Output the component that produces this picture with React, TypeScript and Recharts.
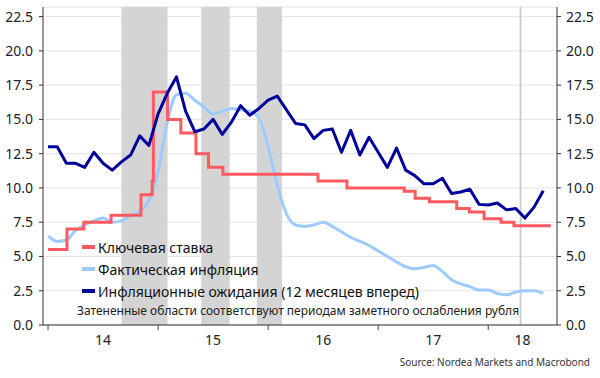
import { LineChart, Line, XAxis, YAxis, CartesianGrid, ReferenceArea, ReferenceLine } from "recharts"

// monthly observations, first point = Jan 2014
const startYear = 2014

const inflation = [
  6.5, 6.1, 6.2, 6.9, 7.3, 7.6, 7.8, 7.5, 7.6, 8.0, 8.3, 9.1,
  11.2, 14.8, 16.8, 16.9, 16.4, 15.9, 15.4, 15.6, 15.8, 15.7, 15.6, 15.1,
  13.0, 10.2, 8.1, 7.3, 7.2, 7.3, 7.5, 7.2, 6.8, 6.4, 6.1, 5.8,
  5.4, 5.0, 4.6, 4.25, 4.1, 4.2, 4.35, 3.9, 3.3, 3.0, 2.8, 2.55,
  2.55, 2.3, 2.2, 2.4, 2.5, 2.5, 2.3,
]

const expectations = [
  13.0, 13.0, 11.8, 11.8, 11.5, 12.6, 11.8, 11.3, 11.9, 12.4, 13.8, 13.1,
  15.4, 16.9, 18.1, 15.6, 14.1, 14.3, 15.0, 13.9, 14.8, 16.0, 15.3, 15.8,
  16.4, 16.7, 15.7, 14.7, 14.6, 13.6, 14.2, 14.3, 12.6, 14.2, 12.4, 13.7,
  12.6, 11.5, 12.9, 11.3, 10.9, 10.3, 10.3, 10.7, 9.6, 9.7, 9.9, 8.8,
  8.75, 8.9, 8.4, 8.5, 7.8, 8.6, 9.8,
]

// key rate: dates of changes and new level
const rateDates = [
  "2014-01-01", "2014-03-03", "2014-04-28", "2014-07-28", "2014-11-05", "2014-12-12",
  "2014-12-16", "2015-02-02", "2015-03-16", "2015-05-05", "2015-06-16", "2015-08-03",
  "2016-06-14", "2016-09-19", "2017-03-27", "2017-05-02", "2017-06-19", "2017-09-18",
  "2017-10-30", "2017-12-18", "2018-02-12", "2018-03-26", "2018-07-27",
]
const rateValues = [
  5.5, 7.0, 7.5, 8.0, 9.5, 10.5,
  17.0, 15.0, 14.0, 12.5, 11.5, 11.0,
  10.5, 10.0, 9.75, 9.25, 9.0, 8.5,
  8.25, 7.75, 7.5, 7.25, 7.25,
]

// periods of ruble weakness
const shadeStart = ["2014-09-01", "2015-05-23", "2015-11-24"]
const shadeEnd = ["2015-02-02", "2015-08-26", "2016-02-16"]
const markerDate = "2018-04-17"

const yearLabels = ["14", "15", "16", "17", "18"]
const yTicks = [0, 2.5, 5, 7.5, 10, 12.5, 15, 17.5, 20, 22.5]
const xMin = -0.55
const xMax = 55.5

function monthIndex(d: string) {
  const [y, m, day] = d.split("-").map(Number)
  const dim = new Date(y, m, 0).getDate()
  return (y - startYear) * 12 + (m - 1) + (day - 1) / dim
}

const monthly = inflation.map((v, i) => ({ x: i, infl: v, exp: expectations[i] }))
const rateData = rateDates.map((d, i) => ({ x: monthIndex(d), rate: rateValues[i] }))

const yearStarts = yearLabels.map((_, i) => i * 12)
const labelPos = yearStarts.map((s, i) => ((yearStarts[i + 1] ?? xMax) + s) / 2)

function YearTick(props: any) {
  const { x, y, payload } = props
  if (yearStarts.includes(payload.value)) {
    return <line x1={x} x2={x} y1={y} y2={y + 5} stroke="#444" />
  }
  const li = labelPos.indexOf(payload.value)
  return (
    <text x={x} y={y + 20} textAnchor="middle" fontSize={14} fill="#222">
      {yearLabels[li]}
    </text>
  )
}

const fmt = (v: number) => v.toFixed(1)

const legend = [
  { label: "Ключевая ставка", color: "#ff5a5f", top: 247 },
  { label: "Фактическая инфляция", color: "#9ecbff", top: 269 },
  { label: "Инфляционные ожидания (12 месяцев вперед)", color: "#00009a", top: 291 },
]

export default function App() {
  return (
    <div style={{ position: "absolute", left: 0, top: 0, width: 600, height: 378, fontFamily: "'Noto Sans', sans-serif", background: "#fff" }}>
      <LineChart width={600} height={378} margin={{ top: 7, right: 0, bottom: 0, left: 0 }}>
        <CartesianGrid vertical={false} stroke="#e4e4e4" yAxisId="left" />
        <XAxis
          type="number"
          dataKey="x"
          domain={[xMin, xMax]}
          allowDataOverflow
          ticks={[...yearStarts, ...labelPos].sort((a, b) => a - b)}
          interval={0}
          tick={<YearTick />}
          tickLine={false}
          tickSize={0}
          tickMargin={0}
          height={53}
          stroke="#333"
        />
        <YAxis
          yAxisId="left"
          domain={[0, 23.2]}
          ticks={yTicks}
          tickFormatter={fmt}
          width={43}
          tickSize={4}
          tickMargin={6}
          stroke="#333"
          tick={{ fill: "#222", fontSize: 14 }}
          allowDataOverflow
        />
        <YAxis
          yAxisId="right"
          orientation="right"
          domain={[0, 23.2]}
          ticks={yTicks}
          tickFormatter={fmt}
          width={43}
          tickSize={4}
          tickMargin={5}
          stroke="#333"
          tick={{ fill: "#222", fontSize: 14 }}
          allowDataOverflow
        />
        {shadeStart.map((s, i) => (
          <ReferenceArea
            key={s}
            yAxisId="left"
            x1={monthIndex(s)}
            x2={monthIndex(shadeEnd[i])}
            y1={0}
            y2={23.2}
            fill="#d4d4d4"
            fillOpacity={1}
            stroke="none"
          />
        ))}
        <ReferenceLine yAxisId="left" x={monthIndex(markerDate)} stroke="#cfcfcf" strokeWidth={2} />
        <Line yAxisId="left" data={monthly} dataKey="infl" type="monotone" stroke="#9ecbff" strokeWidth={3} dot={false} isAnimationActive={false} />
        <Line yAxisId="left" data={rateData} dataKey="rate" type="stepAfter" stroke="#ff5a5f" strokeWidth={3} dot={false} isAnimationActive={false} />
        <Line yAxisId="left" data={monthly} dataKey="exp" type="linear" stroke="#00009a" strokeWidth={3} dot={false} strokeLinejoin="round" isAnimationActive={false} />
      </LineChart>

      {legend.map((l) => (
        <div key={l.label} style={{ position: "absolute", left: 82, top: l.top - 10, height: 20, display: "flex", alignItems: "center", fontSize: 14, color: "#111", whiteSpace: "nowrap" }}>
          <span style={{ display: "inline-block", width: 13, height: 4, background: l.color, marginRight: 3 }} />
          {l.label}
        </div>
      ))}
      <div style={{ position: "absolute", left: 77, top: 302, height: 18, lineHeight: "18px", fontSize: 12, color: "#222", whiteSpace: "nowrap" }}>
        Затененные области соответствуют периодам заметного ослабления рубля
      </div>
      <div style={{ position: "absolute", right: 10, top: 354, height: 16, lineHeight: "16px", fontSize: 10, color: "#333", whiteSpace: "nowrap" }}>
        Source: Nordea Markets and Macrobond
      </div>
    </div>
  )
}
